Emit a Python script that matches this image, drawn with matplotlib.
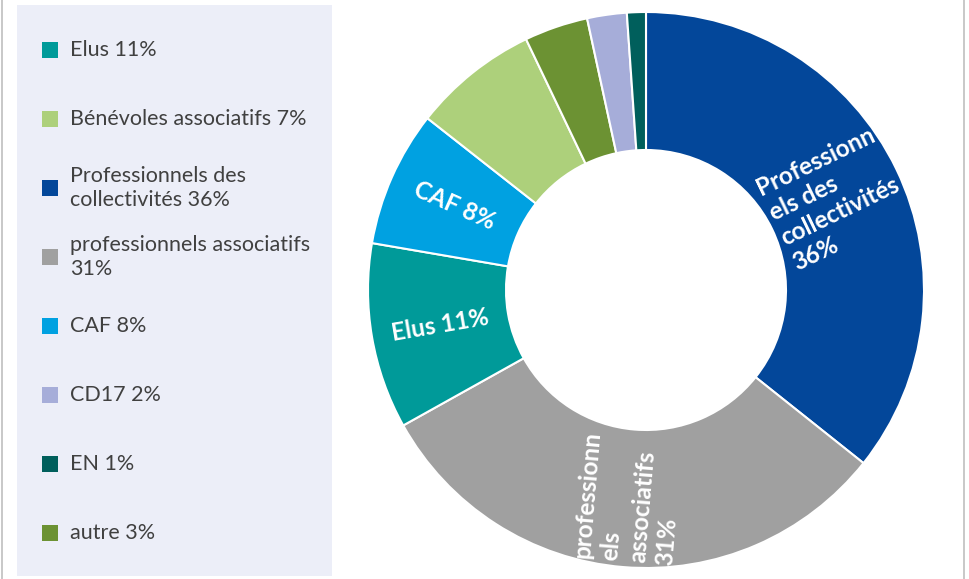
import matplotlib
matplotlib.use("Agg")
import matplotlib.pyplot as plt
from matplotlib.patches import Rectangle
import numpy as np

# ---- data (clockwise from 12 o'clock) ----
categories = ["Professionnels des collectivités", "professionnels associatifs", "Elus",
              "CAF", "Bénévoles associatifs", "autre", "CD17", "EN"]
shares = [35.7, 31.2, 10.8, 7.9, 7.3, 3.7, 2.3, 1.1]
shown_pct = [36, 31, 11, 8, 7, 3, 2, 1]
colors = ["#03479A", "#A0A0A0", "#009A99", "#00A1E1", "#ADD07B", "#6C9233", "#A6ADD9", "#005F5C"]
wedge_labels = ["Professionn\nels des\ncollectivités\n36%", "professionn\nels\nassociatifs\n31%",
                "Elus 11%", "CAF 8%", "", "", "", ""]
legend_order = ["Elus", "Bénévoles associatifs", "Professionnels des collectivités",
                "professionnels associatifs", "CAF", "CD17", "EN", "autre"]
legend_text = {"Professionnels des collectivités": "Professionnels des\ncollectivités 36%",
               "professionnels associatifs": "professionnels associatifs\n31%"}

W, H = 969, 579
fig = plt.figure(figsize=(W / 100, H / 100), dpi=100)
fig.patch.set_facecolor("white")
ax = fig.add_axes([0, 0, 1, 1])

cx, cy = 646, H - 290
r_out, r_in = 278, 140

wedges, _ = ax.pie(shares, colors=colors, startangle=90, counterclock=False,
                   center=(cx, cy), radius=r_out,
                   wedgeprops=dict(width=r_out - r_in, edgecolor="white", linewidth=1.5))
ax.set_xlim(0, W)
ax.set_ylim(0, H)
ax.set_aspect("equal")
ax.axis("off")

# labels inside the ring, radial orientation
r_mid = (r_out + r_in) / 2
for w, lab in zip(wedges, wedge_labels):
    if not lab:
        continue
    ang = (w.theta1 + w.theta2) / 2
    x = cx + r_mid * np.cos(np.radians(ang))
    y = cy + r_mid * np.sin(np.radians(ang))
    rot = ang
    if rot > 90:
        rot -= 180
    if rot < -90:
        rot += 180
    ax.text(x, y, lab, ha="center", va="center", rotation=rot, rotation_mode="anchor",
            multialignment="left",
            color="white", fontsize=17.5, fontweight="bold", family="Lato", linespacing=1.25)

# legend panel
ax.add_patch(Rectangle((17, H - 576), 315, 571, facecolor="#ECEEF8", edgecolor="none", zorder=0))
ax.plot([2, 2], [0, H], color="#BFBFBF", lw=1.2)
ax.plot([964, 964], [0, H], color="#BFBFBF", lw=1.2)

for i, name in enumerate(legend_order):
    k = categories.index(name)
    yc = H - (50 + i * 69)
    ax.add_patch(Rectangle((42, yc - 8), 16, 16, facecolor=colors[k], edgecolor="none"))
    txt = legend_text.get(name, f"{name} {shown_pct[k]}%")
    ax.text(70, yc, txt, ha="left", va="center", color="#404040", fontsize=15.5,
            family="Lato", linespacing=1.25)

fig.savefig("out.png", dpi=100)
